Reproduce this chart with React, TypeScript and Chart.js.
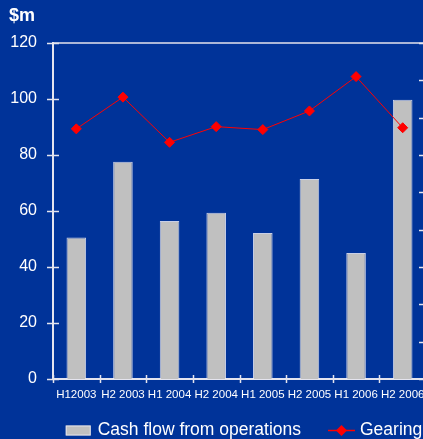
import React, { useEffect, useRef } from 'react';
import { Chart, registerables } from 'chart.js';

Chart.register(...registerables);

const categories = ['H12003', 'H2 2003', 'H1 2004', 'H2 2004', 'H1 2005', 'H2 2005', 'H1 2006', 'H2 2006'];
const cashFlow = [50.5, 77.6, 56.4, 59.4, 52.1, 71.4, 45.0, 99.7];
const gearing = [67.0, 75.5, 63.4, 67.6, 66.8, 71.8, 81.0, 67.3];
const leftMin = 0;
const leftMax = 120;
const leftStep = 20;
const rightMin = 0;
const rightMax = 90;
const rightStep = 10;
const titleText = '$m';
const cashLabel = 'Cash flow from operations';
const gearingLabel = 'Gearing';

const BG = '#003399';
const AXIS = '#e4e4ee';
const BAR = '#c0c0c0';
const RED = '#ff0000';
const FONT = '"Liberation Sans", Arial, sans-serif';

const decor = {
  id: 'decor',
  afterDraw(chart: any) {
    const { ctx, chartArea: ca, scales } = chart;
    const y = scales.y;
    const y1 = scales.y1;
    const x = scales.x;
    ctx.save();
    ctx.strokeStyle = AXIS;
    ctx.lineWidth = 1.5;
    const line = (x0: number, y0: number, x2: number, y2: number) => {
      ctx.beginPath();
      ctx.moveTo(x0, y0);
      ctx.lineTo(x2, y2);
      ctx.stroke();
    };
    // top border of plot
    line(ca.left, ca.top, ca.right, ca.top);
    // left ticks (crossing)
    y.ticks.forEach((_: any, i: number) => {
      const py = Math.round(y.getPixelForTick(i)) + 0.5;
      line(ca.left - 6, py, ca.left + 6, py);
    });
    // right ticks (crossing)
    y1.ticks.forEach((_: any, i: number) => {
      const py = Math.round(y1.getPixelForTick(i)) + 0.5;
      line(ca.right - 7, py, ca.right + 7, py);
    });
    // x ticks at category boundaries
    const n = x.ticks.length;
    const w = (x.right - x.left) / n;
    for (let i = 0; i <= n; i++) {
      const px = Math.round(x.left + i * w) + 0.5;
      line(px, ca.bottom - 4, px, ca.bottom + 4);
    }
    // title
    ctx.fillStyle = '#ffffff';
    ctx.font = `bold 18px ${FONT}`;
    ctx.textBaseline = 'alphabetic';
    ctx.textAlign = 'left';
    ctx.fillText(titleText, 9, 21);

    // legend
    ctx.font = `17.5px ${FONT}`;
    const boxW = 25, boxH = 10, gap1 = 7, gapItems = 27, lineW = 27, gap2 = 5;
    const t1 = ctx.measureText(cashLabel).width;
    const t2 = ctx.measureText(gearingLabel).width;
    const total = boxW + gap1 + t1 + gapItems + lineW + gap2 + t2;
    let lx = chart.width / 2 - total / 2;
    const ly = 430.5;
    ctx.fillStyle = BAR;
    ctx.fillRect(lx, ly - boxH / 2, boxW, boxH);
    ctx.strokeStyle = 'rgba(235,235,245,0.8)';
    ctx.lineWidth = 1;
    ctx.strokeRect(lx + 0.5, ly - boxH / 2 + 0.5, boxW - 1, boxH - 1);
    lx += boxW + gap1;
    ctx.fillStyle = '#ffffff';
    ctx.textBaseline = 'middle';
    ctx.fillText(cashLabel, lx, ly);
    lx += t1 + gapItems;
    ctx.strokeStyle = RED;
    ctx.lineWidth = 1.5;
    line(lx, ly, lx + lineW, ly);
    const cx = lx + lineW / 2;
    ctx.fillStyle = RED;
    ctx.beginPath();
    ctx.moveTo(cx - 5.5, ly);
    ctx.lineTo(cx, ly - 5.5);
    ctx.lineTo(cx + 5.5, ly);
    ctx.lineTo(cx, ly + 5.5);
    ctx.closePath();
    ctx.fill();
    lx += lineW + gap2;
    ctx.fillStyle = '#ffffff';
    ctx.fillText(gearingLabel, lx, ly);
    ctx.restore();
  },
};

export default function App() {
  const ref = useRef<HTMLCanvasElement | null>(null);

  useEffect(() => {
    if (!ref.current) return;
    const chart = new Chart(ref.current, {
      type: 'bar',
      data: {
        labels: categories,
        datasets: [
          {
            type: 'line',
            label: gearingLabel,
            data: gearing,
            yAxisID: 'y1',
            borderColor: RED,
            backgroundColor: RED,
            borderWidth: 1,
            pointStyle: 'rectRot',
            pointRadius: 5,
            pointBackgroundColor: RED,
            pointBorderColor: RED,
            pointBorderWidth: 1,
            tension: 0,
            order: 0,
          } as any,
          {
            type: 'bar',
            label: cashLabel,
            data: cashFlow,
            yAxisID: 'y',
            backgroundColor: BAR,
            borderColor: 'rgba(235,235,245,0.85)',
            borderWidth: 1,
            barPercentage: 0.42,
            categoryPercentage: 1,
            order: 1,
          } as any,
        ],
      },
      options: {
        responsive: false,
        animation: false,
        devicePixelRatio: 1,
        layout: { padding: { top: 43, left: 0, right: 0, bottom: 0 } },
        plugins: {
          legend: { display: false },
          tooltip: { enabled: false },
          title: { display: false },
        },
        scales: {
          x: {
            offset: true,
            grid: { display: false, drawTicks: false },
            border: { display: true, color: AXIS, width: 2 },
            ticks: {
              color: '#ffffff',
              font: { family: FONT, size: 11.5 },
              padding: 9,
              maxRotation: 0,
              autoSkip: false,
            },
            afterFit: (s: any) => {
              s.height = 60;
            },
          },
          y: {
            position: 'left',
            min: leftMin,
            max: leftMax,
            grid: { display: false, drawTicks: false },
            border: { display: true, color: AXIS, width: 2 },
            ticks: {
              stepSize: leftStep,
              color: '#ffffff',
              font: { family: FONT, size: 16 },
              padding: 16,
            },
            afterFit: (s: any) => {
              s.width = 53;
            },
          },
          y1: {
            position: 'right',
            min: rightMin,
            max: rightMax,
            grid: { display: false, drawTicks: false },
            border: { display: true, color: AXIS, width: 2 },
            ticks: { stepSize: rightStep, display: false },
            afterFit: (s: any) => {
              s.width = 62;
            },
          },
        },
      },
      plugins: [decor],
    });
    return () => chart.destroy();
  }, []);

  return (
    <div
      style={{
        position: 'fixed',
        left: 0,
        top: 0,
        width: 423,
        height: 439,
        overflow: 'hidden',
        background: BG,
      }}
    >
      <canvas ref={ref} width={488} height={439} style={{ display: 'block' }} />
    </div>
  );
}
